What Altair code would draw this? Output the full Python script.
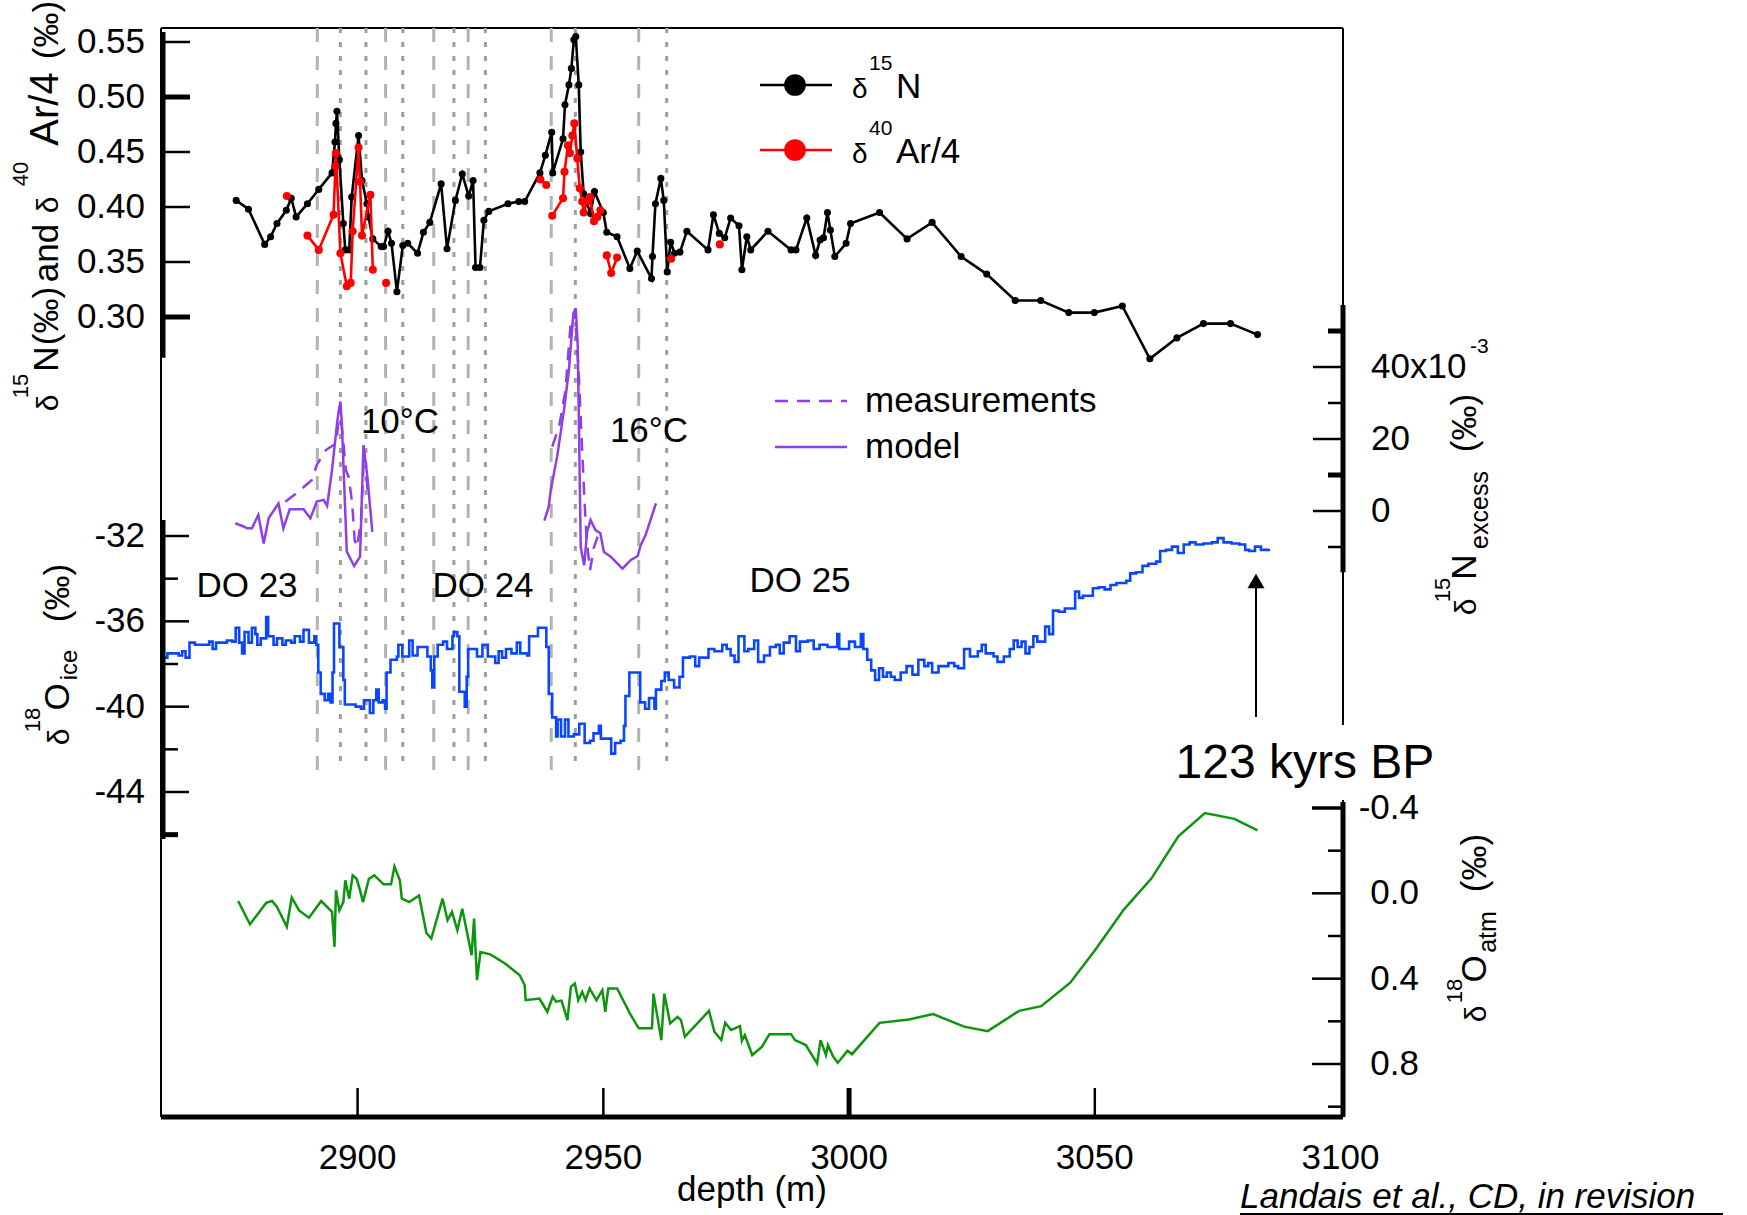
import altair as alt
import pandas as pd

FONT = "Liberation Sans"

# ---------------- data ----------------
n15_depth = [2875.3, 2877.8, 2881.1, 2882.3, 2883.6, 2885.5, 2886.5, 2887.5, 2889.8, 2892.1, 2894.8, 2895.4, 2895.6, 2895.8,
             2896.3, 2897.1, 2897.5, 2898.3, 2898.8, 2900.2, 2900.9, 2901.9, 2902.2, 2903.1, 2904.8, 2905.3, 2906.2, 2906.9,
             2908.0, 2909.2, 2910.2, 2912.2, 2913.4, 2914.7, 2917.0, 2918.2, 2919.9, 2921.3, 2922.6, 2923.5, 2924.0, 2924.9,
             2925.7, 2926.7, 2930.6, 2932.8, 2934.0, 2937.1, 2938.2, 2939.5, 2939.7, 2941.8, 2942.2, 2943.0, 2943.5, 2944.0,
             2944.4, 2945.0, 2945.4, 2946.0, 2947.4, 2948.2, 2950.0, 2950.7, 2952.8, 2955.4, 2956.9, 2959.8, 2960.0, 2960.6,
             2961.7, 2962.3, 2963.0, 2963.7, 2964.5, 2965.6, 2967.0, 2971.3, 2972.4, 2973.6, 2974.7, 2975.9, 2977.6, 2978.2,
             2979.2, 2980.0, 2983.5, 2988.2, 2989.2, 2991.4, 2993.2, 2994.1, 2994.8, 2995.6, 2996.2, 2997.1, 2999.4, 3000.3,
             3006.2, 3011.8, 3016.9, 3022.8, 3028.0, 3033.8, 3039.0, 3044.7, 3049.9, 3055.6, 3061.2, 3066.7, 3072.1, 3077.6,
             3083.1]
n15_val = [0.406, 0.398, 0.366, 0.373, 0.385, 0.397, 0.408, 0.391, 0.403, 0.416, 0.431, 0.459, 0.476, 0.487,
           0.443, 0.385, 0.361, 0.361, 0.409, 0.465, 0.424, 0.403, 0.391, 0.371, 0.364, 0.364, 0.378, 0.367,
           0.323, 0.365, 0.367, 0.358, 0.377, 0.386, 0.421, 0.362, 0.406, 0.430, 0.410, 0.424, 0.345, 0.345,
           0.388, 0.396, 0.403, 0.405, 0.405, 0.431, 0.447, 0.468, 0.431, 0.462, 0.493, 0.511, 0.526, 0.552,
           0.555, 0.511, 0.450, 0.412, 0.394, 0.414, 0.395, 0.377, 0.373, 0.344, 0.360, 0.335, 0.355, 0.403,
           0.426, 0.406, 0.341, 0.368, 0.358, 0.359, 0.378, 0.361, 0.393, 0.376, 0.372, 0.390, 0.383, 0.343,
           0.373, 0.361, 0.378, 0.361, 0.361, 0.390, 0.356, 0.370, 0.372, 0.395, 0.379, 0.355, 0.367, 0.385,
           0.395, 0.371, 0.386, 0.355, 0.339, 0.315, 0.315, 0.304, 0.304, 0.310, 0.262, 0.281, 0.294, 0.294,
           0.284]

ar_depth = [2885.6,
            2889.8, 2892.1, 2895.1, 2895.5, 2895.6, 2896.5, 2897.8, 2898.6, 2899.0, 2900.2, 2900.5, 2900.9, 2902.6, 2903.1,
            2905.8,
            2937.2, 2938.4,
            2939.6, 2941.8, 2942.1, 2942.8, 2943.2, 2943.7, 2944.1, 2944.7, 2945.2, 2945.7, 2946.0, 2946.7, 2947.3, 2948.1,
            2948.8, 2949.4,
            2950.7, 2951.6, 2952.8,
            2963.8,
            2973.7]
ar_val = [0.410,
          0.374, 0.361, 0.393, 0.437, 0.449, 0.358, 0.328, 0.331, 0.378, 0.454, 0.423, 0.374, 0.411, 0.343,
          0.331,
          0.425, 0.420,
          0.392, 0.408, 0.432, 0.456, 0.449, 0.465, 0.476, 0.444, 0.417, 0.405, 0.395, 0.405, 0.409, 0.387,
          0.391, 0.397,
          0.356, 0.340, 0.354,
          0.353,
          0.366]
ar_seg = [1,
          2, 2, 2, 2, 2, 2, 2, 2, 2, 2, 2, 2, 2, 2,
          3,
          4, 4,
          5, 5, 5, 5, 5, 5, 5, 5, 5, 5, 5, 5, 5, 5, 5, 5,
          6, 6, 6,
          7,
          8]

model_depth = [2875.1, 2876.8, 2877.5, 2878.5, 2879.8, 2880.9, 2881.9, 2883.9, 2884.9, 2886.2, 2889.0, 2890.4, 2891.7,
               2893.1, 2893.8, 2894.8, 2895.9, 2896.5, 2896.8, 2897.8, 2899.3, 2900.5, 2901.2, 2902.0, 2903.0,
               2938.0, 2938.9, 2939.3, 2940.6, 2942.0, 2943.0, 2943.9, 2944.4, 2944.8, 2945.4, 2946.1, 2946.7, 2947.4,
               2948.4, 2949.4, 2950.1, 2951.5, 2953.9, 2955.6, 2957.0, 2957.6, 2958.6, 2960.7]
model_val = [-3.4, -4.3, -4.8, -4.8, -1.1, -9.0, -2.0, 2.1, -4.8, 0.5, 0.5, -2.0, 2.6,
             3.1, 1.4, 11.4, 25.3, 30.4, 24.4, -11.3, -15.3, -12.7, 18.3, 9.4, -5.8,
             -2.7, 1.2, 5.8, 15.1, 28.1, 39.2, 54.9, 56.3, 45.6, -10.0, -15.1, -5.8, -2.5,
             -5.3, -6.2, -11.3, -12.7, -16.0, -13.6, -12.5, -9.5, -6.7, 2.1]
model_seg = [1] * 25 + [2] * 23

meas_depth = [2885.3, 2888.0, 2890.7, 2891.7, 2893.6, 2895.7, 2896.3, 2897.0, 2897.6, 2898.2, 2898.9, 2899.4, 2899.9,
              2900.7, 2901.2, 2901.7, 2902.1,
              2939.6, 2941.0, 2942.3, 2943.3, 2944.2, 2945.0, 2945.5, 2946.1, 2946.6, 2947.3, 2948.1, 2949.1]
meas_val = [2.6, 5.4, 8.6, 12.8, 17.0, 18.8, 29.0, 20.6, 11.4, 9.4, 2.1, -8.1, -10.0,
            -2.5, 12.3, 12.3, 4.0,
            17.9, 23.4, 33.6, 51.2, 55.4, 38.3, 22.5, 4.9, -8.1, -16.4, -10.0, -6.2]
meas_seg = [1] * 17 + [2] * 12

ice_depth = [2860.0, 2861.3, 2863.6, 2864.3, 2865.0, 2865.8, 2866.9, 2869.8, 2870.5, 2871.2, 2873.4, 2874.5, 2875.2,
             2875.9, 2876.5, 2877.0, 2877.8, 2878.5, 2879.2, 2879.6, 2880.3, 2881.4, 2881.8, 2882.9, 2883.6, 2884.7,
             2885.4, 2886.5, 2887.2, 2888.3, 2889.0, 2890.1, 2891.2, 2891.6, 2892.0, 2892.5, 2893.3, 2894.0, 2894.5,
             2894.9, 2895.2, 2896.0, 2896.3, 2897.1, 2897.4, 2899.6, 2900.7, 2901.3, 2902.5, 2903.2, 2903.8, 2904.3,
             2905.1, 2905.6, 2905.9, 2906.7, 2908.0, 2908.3, 2909.1, 2910.5, 2911.2, 2912.2, 2914.2, 2914.9, 2915.2,
             2915.6, 2916.3, 2917.4, 2918.2, 2919.3, 2919.6, 2920.3, 2920.7, 2921.8, 2922.2, 2922.5, 2924.3, 2925.4,
             2926.5, 2928.0, 2928.7, 2929.4, 2930.2, 2931.3, 2932.4, 2933.1, 2934.5, 2934.9, 2936.7, 2938.2, 2938.4,
             2938.9, 2939.6, 2940.4, 2940.7, 2941.4, 2942.2, 2942.9, 2944.0, 2945.1, 2946.2, 2947.3, 2948.0, 2949.1,
             2949.5, 2950.5, 2951.6, 2952.4, 2953.5, 2954.2, 2954.5, 2955.3, 2957.1, 2957.5, 2958.5, 2959.3, 2960.4,
             2960.7, 2961.8, 2962.5, 2963.3, 2964.4, 2965.5, 2966.2, 2967.6, 2968.7, 2969.5,
             2970.6, 2971.4, 2972.6, 2974.2, 2975.1, 2975.9, 2976.7, 2977.5, 2978.7, 2979.5, 2980.7, 2981.5, 2982.7,
             2983.9, 2985.1, 2985.9, 2986.7, 2987.9, 2989.2, 2990.0, 2991.6, 2992.8, 2994.0, 2995.6, 2997.6, 2998.0,
             3000.0, 3001.2, 3002.4, 3002.9, 3003.7, 3004.5, 3005.3, 3006.1, 3006.9, 3007.7, 3008.5, 3009.3, 3010.5,
             3011.7, 3012.9, 3014.1, 3015.3, 3016.1, 3016.9, 3018.2, 3020.2, 3021.4, 3022.2, 3023.4, 3024.6, 3026.2,
             3027.0, 3027.8, 3029.4, 3030.2, 3031.5, 3032.7, 3033.5, 3034.3, 3035.1, 3035.9, 3036.7, 3037.5, 3038.3,
             3039.9, 3040.7, 3041.5, 3042.7, 3043.9, 3045.2, 3046.0, 3046.8, 3047.6, 3048.4, 3049.6, 3050.8, 3052.0,
             3053.2, 3054.4, 3056.4, 3057.2, 3058.4, 3059.7, 3060.9, 3062.5, 3063.3, 3064.5, 3065.7, 3066.9, 3068.1,
             3069.3, 3070.5, 3072.1, 3073.8, 3075.0, 3076.2, 3077.8, 3079.4, 3080.6, 3081.4, 3082.6, 3083.8, 3085.4]
ice_val = [-37.7, -37.5, -37.6, -37.4, -37.7, -37.0, -37.1, -36.95, -37.3, -37.0, -36.9, -36.95, -36.3,
           -37.0, -37.5, -36.5, -37.0, -36.3, -36.6, -37.1, -36.8, -35.8, -36.7, -37.1, -36.8, -37.1,
           -36.9, -37.0, -36.7, -36.95, -36.4, -37.0, -36.7, -37.1, -38.4, -39.4, -39.7, -39.4, -39.8,
           -38.4, -36.1, -36.1, -37.2, -38.75, -39.9, -40.0, -40.1, -39.7, -40.3, -39.7, -39.2, -39.8,
           -39.7, -40.1, -38.4, -37.8, -37.65, -37.1, -37.65, -36.9, -37.6, -37.2, -37.65, -38.3, -39.1,
           -37.65, -37.1, -36.95, -37.3, -36.7, -36.5, -36.7, -39.3, -40.0, -38.6, -37.3, -37.65, -37.1,
           -37.65, -37.95, -37.4, -37.7, -37.3, -37.5, -37.0, -37.5, -37.6, -36.7, -36.3, -36.3, -37.2,
           -39.4, -40.5, -41.4, -40.6, -41.4, -40.6, -41.4, -41.3, -40.8, -41.7, -41.6, -41.25, -40.9,
           -41.5, -41.5, -42.2, -41.7, -41.6, -40.9, -39.5, -38.4, -38.4, -39.8, -40.1, -39.6, -40.1,
           -39.2, -38.8, -38.4, -38.75, -39.1, -38.6, -37.7, -37.65, -38.1, -37.7,
           -37.7, -37.3, -37.4, -37.1, -37.3, -37.6, -37.9, -36.7, -37.4, -37.3, -36.9, -37.9, -37.6,
           -37.2, -37.1, -37.5, -37.0, -36.7, -37.4, -36.95, -36.9, -37.3, -37.1, -37.2, -36.6, -37.3,
           -36.95, -37.2, -36.6, -37.3, -37.8, -38.3, -38.75, -38.2, -38.6, -38.4, -38.6, -38.75, -38.4,
           -38.1, -38.5, -37.8, -38.1, -37.95, -38.4, -38.1, -37.95, -38.1, -38.2, -37.3, -37.65, -37.4,
           -37.1, -37.5, -37.65, -37.9, -37.65, -37.3, -36.9, -37.2, -36.95, -37.5, -37.2, -36.7, -36.95,
           -36.25, -36.6, -35.5, -35.55, -35.4, -35.4, -34.6, -34.9, -34.8, -34.8, -34.45, -34.4, -34.5,
           -34.3, -34.2, -34.1, -33.75, -33.7, -33.4, -33.3, -33.2, -32.7, -32.65, -32.5, -32.8, -32.4,
           -32.3, -32.4, -32.35, -32.3, -32.1, -32.3, -32.35, -32.4, -32.65, -32.7, -32.5, -32.65, -32.6]

atm_depth = [2875.7, 2878.1, 2881.4, 2882.6, 2883.6, 2885.6, 2886.6, 2888.1, 2890.1, 2892.6, 2894.8, 2895.3, 2895.6,
             2896.3, 2897.1, 2897.5, 2898.3, 2899.0, 2899.8, 2900.5, 2901.1, 2902.3, 2903.4, 2905.3, 2906.8, 2907.5,
             2908.6, 2909.0, 2910.5, 2912.5, 2914.0, 2915.0, 2917.3, 2918.3, 2919.2, 2920.3, 2921.3, 2923.2, 2923.7,
             2924.3, 2925.0, 2927.0, 2930.0, 2933.0, 2934.0, 2934.2, 2937.0, 2938.6, 2939.7, 2940.4, 2941.5, 2942.7,
             2943.4, 2944.2, 2944.9, 2945.7, 2946.4, 2947.2, 2948.6, 2949.8, 2950.4, 2951.0, 2952.8, 2955.4, 2957.2,
             2959.9, 2960.2, 2961.8, 2962.4, 2963.6, 2965.1, 2965.8, 2966.6, 2971.5, 2972.6, 2974.0, 2974.8, 2976.0,
             2977.8, 2978.2, 2978.8, 2980.3, 2982.3, 2983.8, 2988.2, 2989.0, 2991.2, 2993.5, 2994.2, 2995.3, 2995.7,
             2996.8, 2997.7, 2999.7, 3000.6, 3006.2, 3012.2, 3017.1, 3023.4, 3028.2, 3034.6, 3039.1, 3045.0, 3050.3,
             3055.9, 3061.5, 3067.0, 3072.4, 3078.4, 3083.1]
atm_val = [0.036, 0.145, 0.045, 0.036, 0.064, 0.157, 0.020, 0.080, 0.114, 0.036, 0.087, 0.251, -0.014,
           0.080, 0.041, -0.061, 0.025, -0.084, -0.068, -0.014, 0.041, -0.068, -0.084, -0.042, -0.042, -0.126,
           -0.061, 0.025, 0.041, 0.010, 0.186, 0.212, 0.025, 0.126, 0.087, 0.173, 0.072, 0.290, 0.118,
           0.407, 0.275, 0.286, 0.329, 0.384, 0.431, 0.501, 0.493, 0.555, 0.485, 0.508, 0.503, 0.594,
           0.438, 0.423, 0.501, 0.462, 0.501, 0.446, 0.501, 0.454, 0.555, 0.446, 0.446, 0.563, 0.633,
           0.633, 0.470, 0.688, 0.470, 0.610, 0.579, 0.594, 0.672, 0.551, 0.649, 0.688, 0.607, 0.641,
           0.622, 0.691, 0.664, 0.758, 0.719, 0.660, 0.660, 0.688, 0.711, 0.797, 0.688, 0.758, 0.711,
           0.766, 0.794, 0.738, 0.754, 0.607, 0.591, 0.566, 0.625, 0.646, 0.551, 0.529, 0.419, 0.259,
           0.076, -0.069, -0.267, -0.376, -0.349, -0.295]

# event boundaries (grey vertical lines)
onset_depth = [2891.8, 2905.7, 2915.5, 2922.5, 2939.4, 2957.2]
end_depth = [2896.5, 2901.7, 2909.2, 2919.6, 2926.0, 2944.3, 2962.9]

# axis ticks / labels
n15_ticks = [0.30, 0.35, 0.40, 0.45, 0.50, 0.55]
n15_labels = ["0.30", "0.35", "0.40", "0.45", "0.50", "0.55"]
exc_label_vals = [0, 20, 40]
exc_labels = ["0", "20", "40x10"]
ice_label_vals = [-44, -40, -36, -32]
ice_labels = ["-44", "-40", "-36", "-32"]
atm_label_vals = [-0.4, 0.0, 0.4, 0.8]
atm_labels = ["-0.4", "0.0", "0.4", "0.8"]
x_label_vals = [2900, 2950, 3000, 3050, 3100]
x_labels = ["2900", "2950", "3000", "3050", "3100"]

# ---------------- layout (plot-area pixels) ----------------
W, H = 1182, 1089
OX, OY = 161, 28  # plot origin in page pixels
LAB = 35          # label font size

XS = alt.Scale(domain=[2860, 3100.5], range=[0, W], nice=False, zero=False)
N15S = alt.Scale(domain=[0.30, 0.55], range=[289, 14], nice=False, zero=False)
EXCS = alt.Scale(domain=[0, 40], range=[483, 339], nice=False, zero=False)
ICES = alt.Scale(domain=[-44, -32], range=[764, 508], nice=False, zero=False)
ATMS = alt.Scale(domain=[-0.4, 0.8], range=[780, 1036], nice=False, zero=False)

def X(f="d"):
    return alt.X(f"{f}:Q", scale=XS, axis=None)

def Y(scale, f="v"):
    return alt.Y(f"{f}:Q", scale=scale, axis=None)

one = pd.DataFrame({"a": [0]})
layers = []

# frame (thin), right side interrupted by the "123 kyrs BP" label
def frame(x1, x2, y1, y2, w=2, color="black"):
    return alt.Chart(one).mark_rule(color=color, strokeWidth=w).encode(
        x=alt.value(x1), x2=alt.value(x2), y=alt.value(y1), y2=alt.value(y2))

layers += [frame(0, W, 0, 0), frame(0, 0, 0, H), frame(W, W, 0, 697), frame(W, W, 772, H)]

# grey event lines
df_on = pd.DataFrame({"d": onset_depth})
df_end = pd.DataFrame({"d": end_depth})
layers.append(alt.Chart(df_on).mark_rule(color="#b3b3b3", strokeWidth=3, strokeDash=[14, 14]).encode(
    x=X(), y=alt.value(0), y2=alt.value(742)))
layers.append(alt.Chart(df_end).mark_rule(color="#9e9e9e", strokeWidth=3, strokeDash=[5, 9]).encode(
    x=X(), y=alt.value(0), y2=alt.value(742)))

# d15N and d40Ar
df_n15 = pd.DataFrame({"d": n15_depth, "v": n15_val, "i": range(len(n15_depth))})
df_ar = pd.DataFrame({"d": ar_depth, "v": ar_val, "s": ar_seg, "i": range(len(ar_depth))})
layers.append(alt.Chart(df_n15).mark_line(color="black", strokeWidth=2.6).encode(
    x=X(), y=Y(N15S), order="i:Q"))
layers.append(alt.Chart(df_n15).mark_point(filled=True, color="black", opacity=1, size=50).encode(
    x=X(), y=Y(N15S)))
layers.append(alt.Chart(df_ar).mark_line(color="#ff0000", strokeWidth=2.6).encode(
    x=X(), y=Y(N15S), detail="s:N", order="i:Q"))
layers.append(alt.Chart(df_ar).mark_point(filled=True, color="#ff0000", opacity=1, size=65).encode(
    x=X(), y=Y(N15S)))

# d15N excess
df_model = pd.DataFrame({"d": model_depth, "v": model_val, "s": model_seg, "i": range(len(model_depth))})
df_meas = pd.DataFrame({"d": meas_depth, "v": meas_val, "s": meas_seg, "i": range(len(meas_depth))})
PURPLE = "#8f3fe6"
layers.append(alt.Chart(df_meas).mark_line(color=PURPLE, strokeWidth=2.5, strokeDash=[13, 9]).encode(
    x=X(), y=Y(EXCS), detail="s:N", order="i:Q"))
layers.append(alt.Chart(df_model).mark_line(color=PURPLE, strokeWidth=2.5).encode(
    x=X(), y=Y(EXCS), detail="s:N", order="i:Q"))

# d18O ice
df_ice = pd.DataFrame({"d": ice_depth, "v": ice_val})
layers.append(alt.Chart(df_ice).mark_line(color="#0a46ff", strokeWidth=2.6, interpolate="step-after").encode(
    x=X(), y=Y(ICES)))

# d18O atm
df_atm = pd.DataFrame({"d": atm_depth, "v": atm_val, "i": range(len(atm_depth))})
layers.append(alt.Chart(df_atm).mark_line(color="#0d960d", strokeWidth=2.5).encode(
    x=X(), y=Y(ATMS), order="i:Q"))

# ---------------- axes drawn with the scales ----------------
def tick_layer(vals, scale, x1, x2, w):
    df = pd.DataFrame({"v": vals})
    return alt.Chart(df).mark_rule(color="black", strokeWidth=w).encode(
        y=Y(scale), x=alt.value(x1), x2=alt.value(x2))

def domain_layer(lo, hi, scale, x):
    df = pd.DataFrame({"v": [lo], "v2": [hi]})
    return alt.Chart(df).mark_rule(color="black", strokeWidth=5).encode(
        y=Y(scale), y2="v2:Q", x=alt.value(x))

def label_layer(vals, labels, scale, x, align):
    df = pd.DataFrame({"v": vals, "t": labels})
    return alt.Chart(df).mark_text(font=FONT, fontSize=LAB, align=align, baseline="middle").encode(
        y=Y(scale), x=alt.value(x), text="t:N")

# top-left d15N axis
layers.append(domain_layer(0.263, 0.559, N15S, 2))
layers.append(tick_layer([0.35, 0.40, 0.45, 0.55], N15S, 2, 29, 2.5))
layers.append(tick_layer([0.30, 0.50], N15S, 2, 29, 5))
layers.append(label_layer(n15_ticks, n15_labels, N15S, -16, "right"))

# excess right axis
layers.append(domain_layer(-17, 57.2, EXCS, W))
layers.append(tick_layer([0, 20, 40], EXCS, W - 30, W - 2, 2.5))
layers.append(tick_layer([-10, 30], EXCS, W - 15, W - 2, 2.5))
layers.append(tick_layer([10, 50], EXCS, W - 15, W - 2, 5))
layers.append(label_layer(exc_label_vals, exc_labels, EXCS, 1210, "left"))

# d18O ice left axis
layers.append(domain_layer(-31.25, -46.2, ICES, 2))
layers.append(tick_layer([-44, -40, -36, -32], ICES, 2, 28, 2.5))
layers.append(tick_layer([-42, -38, -34], ICES, 2, 17, 2.5))
layers.append(tick_layer([-46], ICES, 2, 17, 5))
layers.append(label_layer(ice_label_vals, ice_labels, ICES, -16, "right"))

# d18O atm right axis
layers.append(domain_layer(-0.428, 1.048, ATMS, W))
layers.append(tick_layer([-0.4], ATMS, W - 31, W - 2, 3.5))
layers.append(tick_layer([0.0, 0.4, 0.8], ATMS, W - 31, W - 2, 2.5))
layers.append(tick_layer([-0.2, 0.2, 0.6, 1.0], ATMS, W - 15, W - 2, 2.5))
layers.append(label_layer(atm_label_vals, atm_labels, ATMS, 1258, "right"))

# bottom depth axis
layers.append(frame(0, W, H, H, 5))
layers.append(alt.Chart(pd.DataFrame({"d": [2900, 2950, 3050]})).mark_rule(color="black", strokeWidth=2.5).encode(
    x=X(), y=alt.value(1060), y2=alt.value(1087)))
layers.append(alt.Chart(pd.DataFrame({"d": [3000]})).mark_rule(color="black", strokeWidth=5).encode(
    x=X(), y=alt.value(1060), y2=alt.value(1087)))
df_xl = pd.DataFrame({"d": x_label_vals, "t": x_labels})
layers.append(alt.Chart(df_xl).mark_text(font=FONT, fontSize=LAB, align="center", baseline="middle").encode(
    x=X(), y=alt.value(1130), text="t:N"))

# ---------------- legend symbols / arrow ----------------
def hline(x1, x2, y, color, w=2.6, dash=None):
    kw = dict(color=color, strokeWidth=w)
    if dash:
        kw["strokeDash"] = dash
    return alt.Chart(one).mark_rule(**kw).encode(
        x=alt.value(x1 - OX), x2=alt.value(x2 - OX), y=alt.value(y - OY))

def dot(x, y, color, size):
    return alt.Chart(one).mark_point(filled=True, opacity=1, color=color, size=size).encode(
        x=alt.value(x - OX), y=alt.value(y - OY))

layers += [hline(760, 832, 85, "black"), dot(795, 85, "black", 470),
           hline(760, 832, 150, "#ff0000"), dot(795, 150, "#ff0000", 470),
           hline(775, 847, 401, PURPLE, 2.5, [13, 9]), hline(775, 847, 447, PURPLE, 2.5)]

# arrow to 123 kyrs BP
layers.append(alt.Chart(one).mark_rule(color="black", strokeWidth=2).encode(
    x=alt.value(1256 - OX), y=alt.value(580 - OY), y2=alt.value(717 - OY)))
layers.append(alt.Chart(one).mark_point(shape="triangle-up", filled=True, opacity=1, color="black", size=290).encode(
    x=alt.value(1256 - OX), y=alt.value(581 - OY)))

# underline of reference
layers.append(hline(1240, 1723, 1214, "black", 2))

# ---------------- texts (page pixel positions) ----------------
# (text, x, y, size, angle, align, baseline, italic)
texts = [
    ("DO 23", 247, 586, LAB, 0, "center", "middle", False),
    ("DO 24", 483, 586, LAB, 0, "center", "middle", False),
    ("DO 25", 800, 581, LAB, 0, "center", "middle", False),
    ("10°C", 400, 422, LAB, 0, "center", "middle", False),
    ("16°C", 649, 431, LAB, 0, "center", "middle", False),
    ("measurements", 865, 401, LAB, 0, "left", "middle", False),
    ("model", 865, 447, LAB, 0, "left", "middle", False),
    ("123 kyrs BP", 1305, 764, 48, 0, "center", "middle", False),
    ("depth (m)", 752, 1190, LAB, 0, "center", "middle", False),
    ("Landais et al., CD, in revision", 1240, 1197, 35, 0, "left", "middle", True),
    # legend texts
    ("δ", 852, 98, 28, 0, "left", "alphabetic", False),
    ("15", 869, 70, 21, 0, "left", "alphabetic", False),
    ("N", 896, 98, LAB, 0, "left", "alphabetic", False),
    ("δ", 852, 163, 28, 0, "left", "alphabetic", False),
    ("40", 869, 135, 21, 0, "left", "alphabetic", False),
    ("Ar/4", 896, 163, LAB, 0, "left", "alphabetic", False),
    ("-3", 1470, 353, 21, 0, "left", "alphabetic", False),
    # left title (d15N / d40Ar)
    ("δ", 58, 403, 30, 270, "center", "alphabetic", False),
    ("15", 28, 386, 22, 270, "center", "alphabetic", False),
    ("N", 58, 359, LAB, 270, "center", "alphabetic", False),
    ("(‰)", 58, 316, LAB, 270, "center", "alphabetic", False),
    ("and", 58, 253, LAB, 270, "center", "alphabetic", False),
    ("δ", 58, 205, 30, 270, "center", "alphabetic", False),
    ("40", 28, 174, 22, 270, "center", "alphabetic", False),
    ("Ar/4", 58, 109, 40, 270, "center", "alphabetic", False),
    ("(‰)", 58, 30, LAB, 270, "center", "alphabetic", False),
    # left title (d18O ice)
    ("δ", 69, 737, 30, 270, "center", "alphabetic", False),
    ("18", 40, 720, 22, 270, "center", "alphabetic", False),
    ("O", 69, 697, LAB, 270, "center", "alphabetic", False),
    ("ice", 77, 665, 24, 270, "center", "alphabetic", False),
    ("(‰)", 69, 593, LAB, 270, "center", "alphabetic", False),
    # right title (excess)
    ("δ", 1476, 607, 30, 270, "center", "alphabetic", False),
    ("15", 1450, 590, 22, 270, "center", "alphabetic", False),
    ("N", 1476, 567, LAB, 270, "center", "alphabetic", False),
    ("excess", 1488, 510, 25, 270, "center", "alphabetic", False),
    ("(‰)", 1476, 423, LAB, 270, "center", "alphabetic", False),
    # right title (atm)
    ("δ", 1486, 1014, 30, 270, "center", "alphabetic", False),
    ("18", 1462, 991, 22, 270, "center", "alphabetic", False),
    ("O", 1486, 969, LAB, 270, "center", "alphabetic", False),
    ("atm", 1496, 932, 25, 270, "center", "alphabetic", False),
    ("(‰)", 1486, 863, LAB, 270, "center", "alphabetic", False),
]
tdf = pd.DataFrame(texts, columns=["t", "x", "y", "fs", "ang", "al", "bl", "it"])
tdf["x"] = tdf["x"] - OX
tdf["y"] = tdf["y"] - OY
for (al, bl, it), g in tdf.groupby(["al", "bl", "it"]):
    layers.append(alt.Chart(g.reset_index(drop=True)).mark_text(
        font=FONT, align=al, baseline=bl, fontStyle="italic" if it else "normal", color="black").encode(
        x=alt.X("x:Q", scale=None, axis=None),
        y=alt.Y("y:Q", scale=None, axis=None),
        text="t:N",
        size=alt.Size("fs:Q", scale=None, legend=None),
        angle=alt.Angle("ang:Q", scale=None, legend=None)))

chart = alt.layer(*layers).resolve_scale(
    x="independent", y="independent", size="independent", angle="independent"
).properties(
    width=W, height=H,
    padding={"left": OX, "top": OY, "right": 1747 - OX - W, "bottom": 1215 - OY - H},
    autosize=alt.AutoSizeParams(type="none"),
    background="white",
).configure_view(strokeWidth=0)

chart.save("out.html", embed_options={"renderer": "svg", "actions": False})
